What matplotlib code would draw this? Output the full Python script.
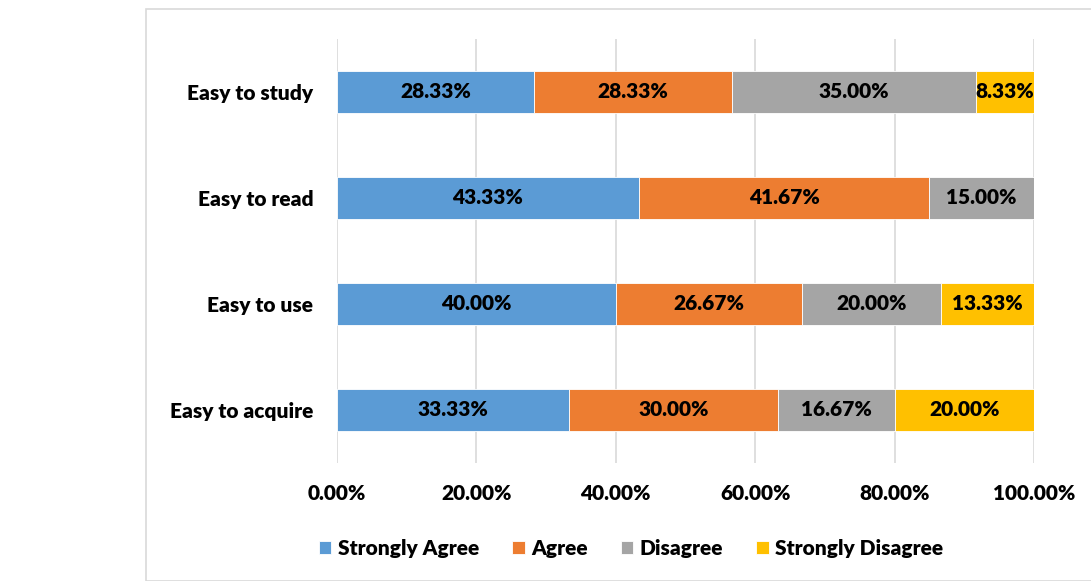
import matplotlib
matplotlib.use("Agg")
import matplotlib.pyplot as plt
from matplotlib.patches import Rectangle
import numpy as np

plt.rcParams['font.family'] = ['Lato', 'DejaVu Sans']
plt.rcParams['font.weight'] = 'heavy'

categories = ["Easy to study", "Easy to read", "Easy to use", "Easy to acquire"]
series = ["Strongly Agree", "Agree", "Disagree", "Strongly Disagree"]
strongly_agree = [28.33, 43.33, 40.00, 33.33]
agree = [28.33, 41.67, 26.67, 30.00]
disagree = [35.00, 15.00, 20.00, 16.67]
strongly_disagree = [8.33, 0.00, 13.33, 20.00]
xticks = [0, 20, 40, 60, 80, 100]

colors = ["#5B9BD5", "#ED7D31", "#A5A5A5", "#FFC000"]
values = [strongly_agree, agree, disagree, strongly_disagree]
fs = 15

fig = plt.figure(figsize=(10.91, 5.81), dpi=100)
ax = fig.add_axes([337 / 1091, 1 - 463 / 581, 697 / 1091, 424 / 581])

# chart border
fig.patches.append(Rectangle((146 / 1091, 0), 1.2, 1 - 9 / 581, transform=fig.transFigure,
                             fill=False, edgecolor="#D9D9D9", lw=1.2))

y = np.arange(len(categories))
left = np.zeros(len(categories))
for name, vals, c in zip(series, values, colors):
    vals = np.array(vals)
    ax.barh(y, vals, left=left, height=0.4, color=c, edgecolor="white", lw=0.6,
            label=name, zorder=3)
    for yi, l, v in zip(y, left, vals):
        if v > 0:
            ax.text(l + v / 2, yi, f"{v:.2f}%", ha="center", va="center",
                    fontsize=fs, fontweight="heavy", color="black", zorder=4)
    left += vals

ax.set_xlim(0, 100)
ax.set_ylim(3.5, -0.5)
ax.set_yticks(y)
ax.set_yticklabels(categories, fontsize=fs, fontweight="heavy")
ax.set_xticks(xticks)
ax.set_xticklabels([f"{t:.2f}%" for t in xticks], fontsize=fs, fontweight="heavy")
ax.tick_params(length=0)
ax.tick_params(axis="y", pad=17)
ax.tick_params(axis="x", pad=15)
ax.grid(axis="x", color="#D9D9D9", lw=1.2, zorder=0)
for s in ax.spines.values():
    s.set_visible(False)

ax.legend(loc="center", bbox_to_anchor=(631 / 1091, 1 - 548 / 581), bbox_transform=fig.transFigure,
          ncol=4, frameon=False, fontsize=fs, handlelength=0.6, handleheight=0.6,
          columnspacing=1.6, handletextpad=0.3)

fig.savefig("out.png", dpi=100)
